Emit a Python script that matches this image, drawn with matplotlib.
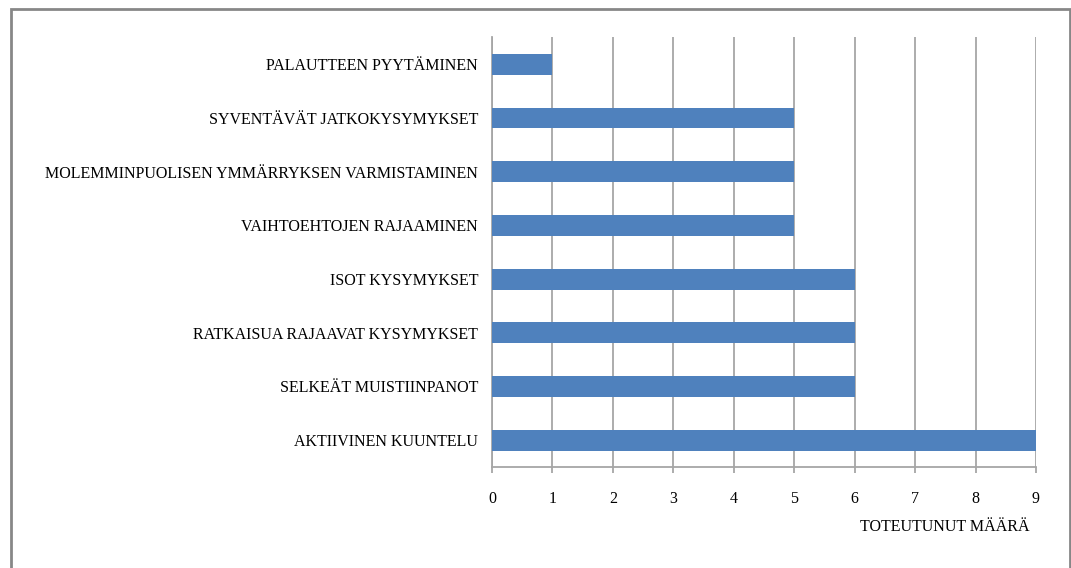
import matplotlib
import matplotlib.pyplot as plt
import matplotlib.patches as patches
import numpy as np

matplotlib.use('Agg')

categories = [
    "AKTIIVINEN KUUNTELU",
    "SELKEÄT MUISTIINPANOT",
    "RATKAISUA RAJAAVAT KYSYMYKSET",
    "ISOT KYSYMYKSET",
    "VAIHTOEHTOJEN RAJAAMINEN",
    "MOLEMMINPUOLISEN YMMÄRRYKSEN VARMISTAMINEN",
    "SYVENTÄVÄT JATKOKYSYMYKSET",
    "PALAUTTEEN PYYTÄMINEN",
]
counts = [9, 6, 6, 6, 5, 5, 5, 1]
x_ticks = list(range(0, 10))

plt.rcParams['font.family'] = ['Liberation Serif', 'DejaVu Serif']

fig = plt.figure(figsize=(10.71, 5.68), dpi=100)
ax = fig.add_axes([0.4594, 0.1778, 0.5079, 0.7562])

y = np.arange(len(categories))
ax.barh(y, counts, height=0.39, color='#4F81BD', zorder=3)

ax.set_xlim(0, 9)
ax.set_ylim(-0.5, len(categories) - 0.5)
ax.set_xticks(x_ticks)
ax.set_yticks(y, categories)

ax.grid(axis='x', color='#a6a6a6', linewidth=1.3, zorder=0)
for side in ('top', 'right'):
    ax.spines[side].set_visible(False)
for side in ('left', 'bottom'):
    ax.spines[side].set_color('#a6a6a6')
    ax.spines[side].set_linewidth(1.3)

ax.tick_params(axis='x', direction='out', length=4, width=1.3, color='#a6a6a6',
               pad=13, labelsize=11.5, labelcolor='black')
ax.tick_params(axis='y', length=0, pad=10, labelsize=11.5, labelcolor='black')

ax.text(0.988, -0.14, "TOTEUTUNUT MÄÄRÄ", transform=ax.transAxes,
        ha='right', va='center', fontsize=11.5)

# outer chart border
fig.patches.append(patches.Rectangle((10.5 / 1071, -0.05), 1059.5 / 1071, 1.05 - 9.5 / 568,
                                     transform=fig.transFigure, fill=False,
                                     edgecolor='#878787', linewidth=2))

fig.savefig('out.png', dpi=100)
